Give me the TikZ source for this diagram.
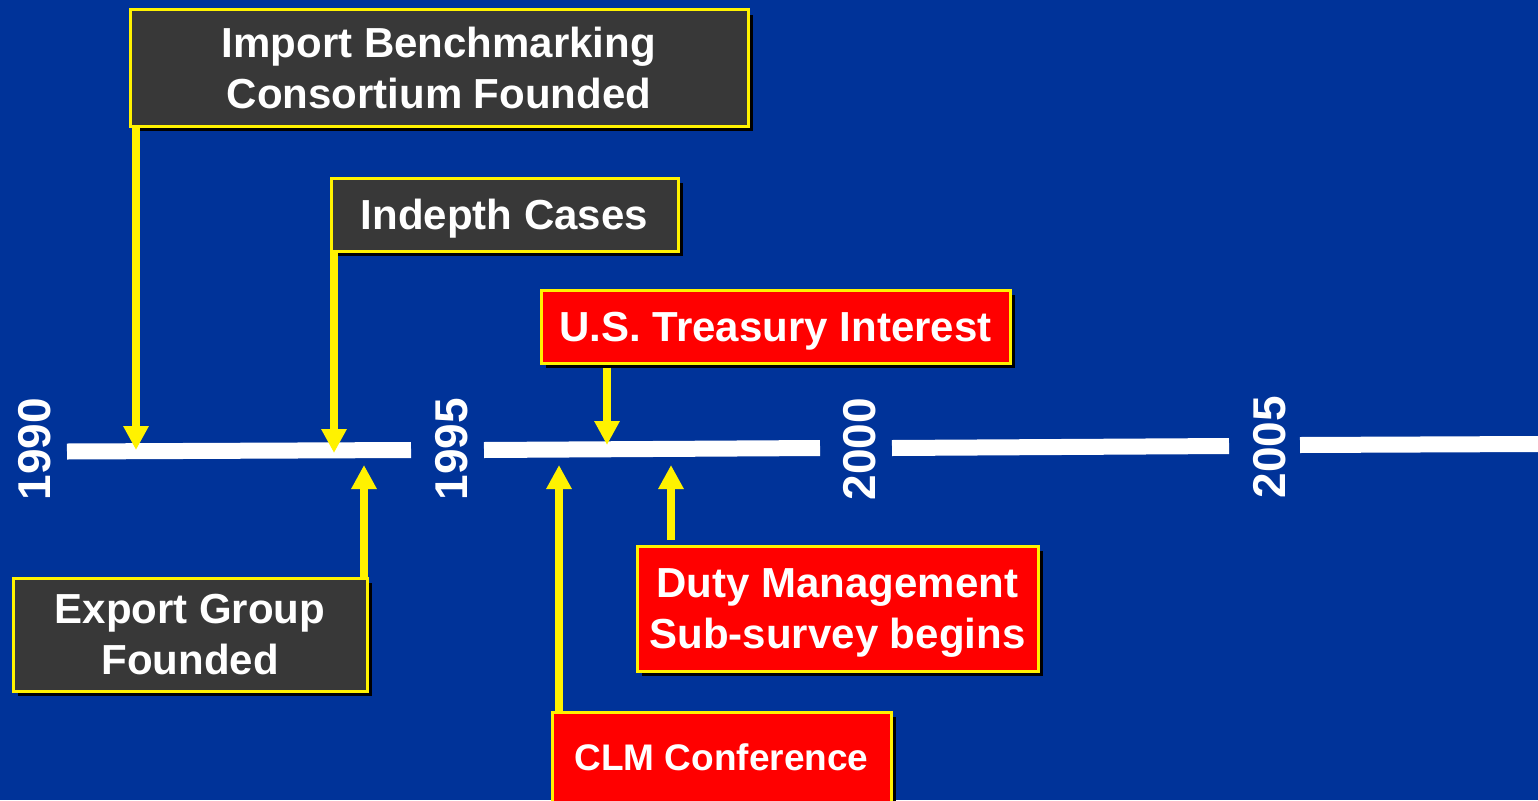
\documentclass[tikz,border=0pt]{standalone}
\usepackage{fontspec}
\setmainfont{Liberation Sans}
\usetikzlibrary{arrows.meta,shadows}
\definecolor{slideblue}{RGB}{0,51,153}
\definecolor{boxgray}{RGB}{56,56,56}
\tikzset{
	event/.style={draw=yellow, line width=3pt, fill=#1, text=white, align=center, inner sep=0pt,
		font=\bfseries\fontsize{42}{51}\selectfont,
		drop shadow={shadow xshift=5pt, shadow yshift=-5pt, fill=black, opacity=1}},
	year/.style={text=white, rotate=90, inner sep=0pt, font=\bfseries\fontsize{46}{46}\selectfont},
	axis/.style={white, line width=16pt},
	pointer/.style={yellow, line width=8pt},
}
\begin{document}
\begin{tikzpicture} [x=1pt, y=-1pt, >={Triangle[width=24pt,length=24pt]}]
	\fill [slideblue] (0,0) rectangle (1538,800);
	\useasboundingbox (0,0) rectangle (1538,800);
	% time axis
	\draw [axis] (67,451.5) -- (411,450);
	\draw [axis] (484,450) -- (820,448);
	\draw [axis] (892,448) -- (1229,446);
	\draw [axis] (1300,445) -- (1538,444);
	\node [year] (y1990) at (35,449) {1990};
	\node [year] (y1995) at (452,449) {1995};
	\node [year] (y2000) at (860,449) {2000};
	\node [year] (y2005) at (1270,447) {2005};
	% events
	\node [event=boxgray, minimum width=618, minimum height=116] (import) at (439,68) {Import Benchmarking\\Consortium Founded};
	\node [event=boxgray, minimum width=347, minimum height=73, text depth=0pt] (cases) at (504.5,214.5) {Indepth Cases};
	\node [event=red, minimum width=469, minimum height=73, text depth=0pt] (treasury) at (775.5,326.5) {U.S. Treasury Interest};
	\node [event=boxgray, minimum width=354, minimum height=113] (export) at (190,634.5) {Export Group\\Founded};
	\node [event=red, minimum width=401, minimum height=125, text depth=0pt] (duty) at (837.5,608.5) {Duty Management\\Sub-survey begins};
	\node [event=red, minimum width=339, minimum height=90, font=\bfseries\fontsize{37}{44}\selectfont] (clm) at (721.5,757) {CLM Conference};
	\coordinate (ev1) at (136,450);
	\coordinate (ev2) at (334,453);
	\coordinate (ev3) at (607,445);
	\coordinate (ev4) at (364,465);
	\coordinate (ev5) at (559,465);
	\coordinate (ev6) at (671,465);
	\draw [pointer, ->] (ev1 |- import.south) -- (ev1);
	\draw [pointer, ->] (ev2 |- cases.south) -- (ev2);
	\draw [pointer, ->, shorten <=3pt] (ev3 |- treasury.south) -- (ev3);
	\draw [pointer, ->] (ev4 |- export.north) -- (ev4);
	\draw [pointer, ->] (ev5 |- clm.north) -- (ev5);
	\draw [pointer, ->, shorten <=5pt] (ev6 |- duty.north) -- (ev6);
\end{tikzpicture}
\end{document}
